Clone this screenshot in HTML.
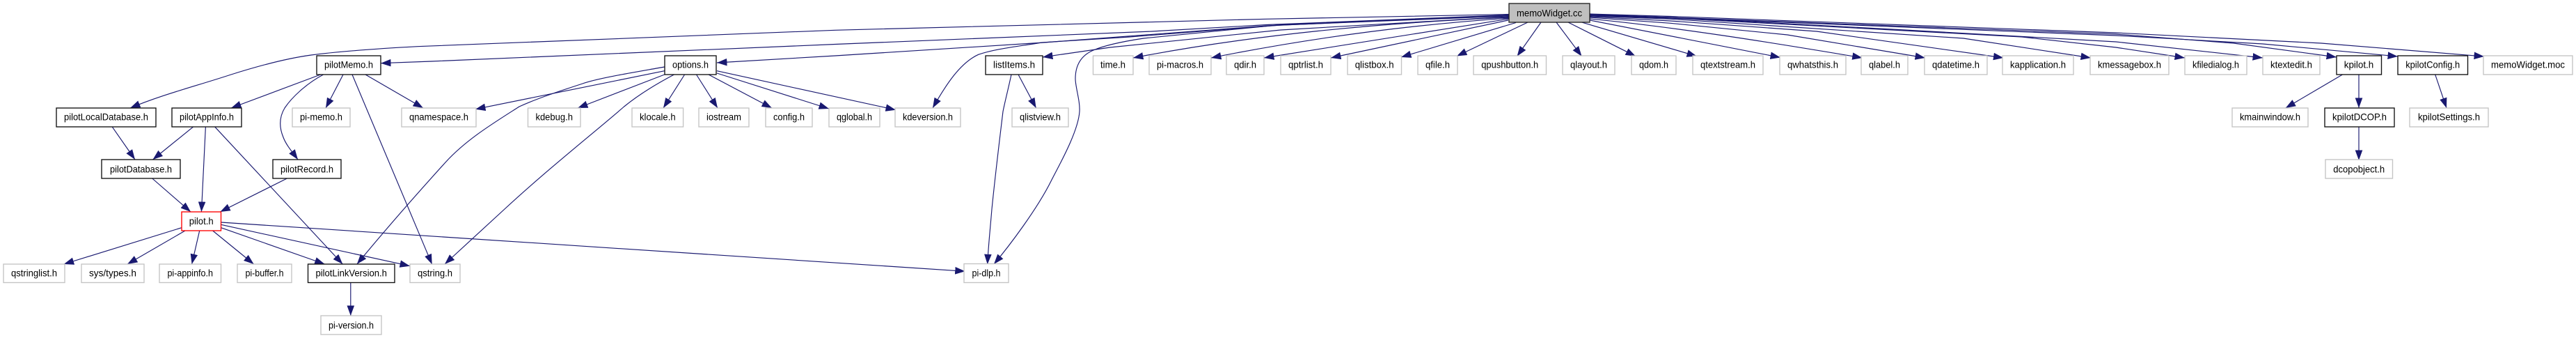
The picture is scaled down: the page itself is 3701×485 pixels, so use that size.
<!DOCTYPE html>
<html><head><meta charset="utf-8"><title>memoWidget.cc include graph</title>
<style>
html,body{margin:0;padding:0;background:#fff;width:3701px;height:485px;overflow:hidden}
svg{display:block}
text{font-family:"Liberation Sans",sans-serif;font-size:13.9px;fill:#000;text-anchor:middle}
.e path{fill:none;stroke:#191970;stroke-width:1.15;stroke-linejoin:round;marker-end:url(#a)}
rect{stroke-width:1.35}
.g{fill:#fff;stroke:#c4c4c4}
.b{fill:#fff;stroke:#111}
.r{fill:#fff;stroke:#f00}
.m{fill:#bfbfbf;stroke:#222}
</style></head><body>
<svg width="3701" height="485" viewBox="0 0 3701 485" xmlns="http://www.w3.org/2000/svg">
<defs><marker id="a" markerUnits="userSpaceOnUse" markerWidth="15" markerHeight="11" viewBox="0 0 15 11" refX="14.5" refY="5.5" orient="auto"><path d="M0 0.2L14.5 5.5L0 10.8z" fill="#191970"/></marker></defs>
<g class="e">
<path d="M2168 20.5L1820 27.3L1200 43.3L600 66.7C520 71 470 76 447 79C410 84 370 95 332 107C280 124 232 136 187 155"/>
<path d="M2168 21.5L1820 35.5L1655 45L1200 63.5L620 88L547 90.7"/>
<path d="M2168 22L1820 37L1500 61L1200 80L1030 90"/>
<path d="M2168 23L1840 36L1623 53L1497 61C1460 67 1430 70 1405.6 78.3C1380 90 1360 120 1340 155"/>
<path d="M2168 22.5L1840 35.5L1643 55C1610 60 1585 66 1571 72C1552 80 1545 95 1545 113C1545 125 1552 145 1551 160C1549 190 1520 240 1510 260C1490 300 1450 353 1428 379"/>
<path d="M2168 24L1840 43L1595 68L1498 82"/>
<path d="M2168 25C1980 33 1800 50 1628 83"/>
<path d="M2168 26C2020 36 1880 55 1740 83"/>
<path d="M2168 27L1816 83"/>
<path d="M2167 29L1912 83"/>
<path d="M2178 32.5L2013 82"/>
<path d="M2195 32L2093 80.5"/>
<path d="M2214 32L2179.6 80.7"/>
<path d="M2236 32L2272.5 80.7"/>
<path d="M2253 32L2350 80.7"/>
<path d="M2272.5 32L2438 80.7"/>
<path d="M2284 29L2558 82.5"/>
<path d="M2284 27C2400 38 2540 60 2675.7 83"/>
<path d="M2284 25L2400 33.3L2568 50L2766 83"/>
<path d="M2284 24L2400 30L2610 45L2878.5 83"/>
<path d="M2284 23L2400 27.3L2821 55L3004 83"/>
<path d="M2284 22.5L2400 26L2905 53L3040 68L3139 83"/>
<path d="M2284 22L2400 25L2737 43L3040 60L3251 83"/>
<path d="M2284 21L2400 25.5L3040 51L3251 63L3445 81"/>
<path d="M2284 20.5L2400 25L3040 49L3209 62L3357 82"/>
<path d="M2284 20L2400 23.5L3040 47L3335 62L3569 81"/>
<path d="M460.6 107L332 155"/>
<path d="M464.6 107C440 120 419 140 409 155C400 170 402 185 407 197C411 208 420 218 428 229"/>
<path d="M493 107L468 155"/>
<path d="M506 107L620.7 379.3"/>
<path d="M525 107L608 155"/>
<path d="M161 181.7L194 229"/>
<path d="M278 181.7L219.5 229"/>
<path d="M295.4 181.7L289.4 304"/>
<path d="M308.4 181.7L492.3 379"/>
<path d="M218.7 256L274 304"/>
<path d="M412.4 256L316.3 304"/>
<path d="M261 326.7L91.7 379"/>
<path d="M266 331L183 379"/>
<path d="M286.7 331L275.6 379"/>
<path d="M305.6 331L364.6 379"/>
<path d="M317.5 326.7L466.6 379"/>
<path d="M317.5 322.3L589 381.7"/>
<path d="M317.5 319L1386.7 389.3"/>
<path d="M503.8 405L503.8 453"/>
<path d="M954.7 96C910 104 860 112 837 120C800 132 770 142 746 153C710 176 670 200 640 233C610 266 560 322 512.9 379"/>
<path d="M954.7 101.7L683 156.7"/>
<path d="M954.7 107L830 155"/>
<path d="M968.5 107C940 122 915 138 896.6 153C860 185 790 240 725 300C700 323 665 355 639 379"/>
<path d="M983.6 107L953 155"/>
<path d="M1000.5 107L1031 155"/>
<path d="M1018 107L1109 155"/>
<path d="M1030 105L1191 156"/>
<path d="M1030 101.7L1287 157.7"/>
<path d="M1453 107C1448 130 1444 145 1441 160C1435 210 1430 250 1425 300C1423 325 1420 352 1418.7 379.3"/>
<path d="M1463 107L1488.6 155"/>
<path d="M3365.5 107L3283.7 155"/>
<path d="M3389 107L3389 155"/>
<path d="M3498.7 107L3515 155"/>
<path d="M3389 181.7L3389 230"/>
</g>
<rect class="m" x="2168" y="5" width="116" height="27"/><text x="2226" y="23.3" textLength="94" lengthAdjust="spacingAndGlyphs">memoWidget.cc</text>

<rect class="b" x="455" y="80" width="92" height="27"/><text x="501" y="97.5" textLength="70" lengthAdjust="spacingAndGlyphs">pilotMemo.h</text>
<rect class="b" x="955" y="80" width="74" height="27"/><text x="992" y="97.5" textLength="52" lengthAdjust="spacingAndGlyphs">options.h</text>
<rect class="b" x="1416" y="80" width="82" height="27"/><text x="1457" y="97.5" textLength="60" lengthAdjust="spacingAndGlyphs">listItems.h</text>
<rect class="g" x="1570.5" y="80" width="57.5" height="27"/><text x="1599" y="97.5" textLength="36" lengthAdjust="spacingAndGlyphs">time.h</text>
<rect class="g" x="1651" y="80" width="89" height="27"/><text x="1695.5" y="97.5" textLength="67" lengthAdjust="spacingAndGlyphs">pi-macros.h</text>
<rect class="g" x="1762" y="80" width="54" height="27"/><text x="1789" y="97.5" textLength="32" lengthAdjust="spacingAndGlyphs">qdir.h</text>
<rect class="g" x="1840" y="80" width="72" height="27"/><text x="1876" y="97.5" textLength="50" lengthAdjust="spacingAndGlyphs">qptrlist.h</text>
<rect class="g" x="1936" y="80" width="77.5" height="27"/><text x="1974.7" y="97.5" textLength="56" lengthAdjust="spacingAndGlyphs">qlistbox.h</text>
<rect class="g" x="2037" y="80" width="57" height="27"/><text x="2065.5" y="97.5" textLength="35" lengthAdjust="spacingAndGlyphs">qfile.h</text>
<rect class="g" x="2117" y="80" width="104.5" height="27"/><text x="2169.2" y="97.5" textLength="82" lengthAdjust="spacingAndGlyphs">qpushbutton.h</text>
<rect class="g" x="2245" y="80" width="75" height="27"/><text x="2282.5" y="97.5" textLength="53" lengthAdjust="spacingAndGlyphs">qlayout.h</text>
<rect class="g" x="2344" y="80" width="64" height="27"/><text x="2376" y="97.5" textLength="42" lengthAdjust="spacingAndGlyphs">qdom.h</text>
<rect class="g" x="2432" y="80" width="101" height="27"/><text x="2482.5" y="97.5" textLength="79" lengthAdjust="spacingAndGlyphs">qtextstream.h</text>
<rect class="g" x="2557" y="80" width="95" height="27"/><text x="2604.5" y="97.5" textLength="73" lengthAdjust="spacingAndGlyphs">qwhatsthis.h</text>
<rect class="g" x="2674" y="80" width="67" height="27"/><text x="2707.5" y="97.5" textLength="45" lengthAdjust="spacingAndGlyphs">qlabel.h</text>
<rect class="g" x="2765" y="80" width="90" height="27"/><text x="2810" y="97.5" textLength="68" lengthAdjust="spacingAndGlyphs">qdatetime.h</text>
<rect class="g" x="2877" y="80" width="102" height="27"/><text x="2928" y="97.5" textLength="80" lengthAdjust="spacingAndGlyphs">kapplication.h</text>
<rect class="g" x="3003" y="80" width="113" height="27"/><text x="3059.5" y="97.5" textLength="91" lengthAdjust="spacingAndGlyphs">kmessagebox.h</text>
<rect class="g" x="3139" y="80" width="89" height="27"/><text x="3183.5" y="97.5" textLength="67" lengthAdjust="spacingAndGlyphs">kfiledialog.h</text>
<rect class="g" x="3251" y="80" width="82" height="27"/><text x="3292" y="97.5" textLength="60" lengthAdjust="spacingAndGlyphs">ktextedit.h</text>
<rect class="b" x="3357" y="80" width="64.5" height="27"/><text x="3389" y="97.5" textLength="42.5" lengthAdjust="spacingAndGlyphs">kpilot.h</text>
<rect class="b" x="3445" y="80" width="100.5" height="27"/><text x="3495.2" y="97.5" textLength="78" lengthAdjust="spacingAndGlyphs">kpilotConfig.h</text>
<rect class="g" x="3568" y="80" width="128" height="27"/><text x="3632" y="97.5" textLength="106" lengthAdjust="spacingAndGlyphs">memoWidget.moc</text>

<rect class="b" x="81" y="155" width="143" height="27"/><text x="152.5" y="172.3" textLength="121" lengthAdjust="spacingAndGlyphs">pilotLocalDatabase.h</text>
<rect class="b" x="247" y="155" width="100" height="27"/><text x="297" y="172.3" textLength="78" lengthAdjust="spacingAndGlyphs">pilotAppInfo.h</text>
<rect class="g" x="420" y="155" width="83" height="27"/><text x="461.5" y="172.3" textLength="61" lengthAdjust="spacingAndGlyphs">pi-memo.h</text>
<rect class="g" x="577" y="155" width="107" height="27"/><text x="630.5" y="172.3" textLength="85" lengthAdjust="spacingAndGlyphs">qnamespace.h</text>
<rect class="g" x="758.5" y="155" width="75.5" height="27"/><text x="796.2" y="172.3" textLength="53.5" lengthAdjust="spacingAndGlyphs">kdebug.h</text>
<rect class="g" x="908" y="155" width="73.6" height="27"/><text x="944.8" y="172.3" textLength="51.6" lengthAdjust="spacingAndGlyphs">klocale.h</text>
<rect class="g" x="1004" y="155" width="72" height="27"/><text x="1040" y="172.3" textLength="50" lengthAdjust="spacingAndGlyphs">iostream</text>
<rect class="g" x="1100" y="155" width="67" height="27"/><text x="1133.5" y="172.3" textLength="45" lengthAdjust="spacingAndGlyphs">config.h</text>
<rect class="g" x="1191" y="155" width="73" height="27"/><text x="1227.5" y="172.3" textLength="51" lengthAdjust="spacingAndGlyphs">qglobal.h</text>
<rect class="g" x="1286" y="155" width="94" height="27"/><text x="1333" y="172.3" textLength="72" lengthAdjust="spacingAndGlyphs">kdeversion.h</text>
<rect class="g" x="1454" y="155" width="81" height="27"/><text x="1494.5" y="172.3" textLength="59" lengthAdjust="spacingAndGlyphs">qlistview.h</text>
<rect class="g" x="3207" y="155" width="109" height="27"/><text x="3261.5" y="172.3" textLength="87" lengthAdjust="spacingAndGlyphs">kmainwindow.h</text>
<rect class="b" x="3340" y="155" width="100" height="27"/><text x="3390" y="172.3" textLength="78" lengthAdjust="spacingAndGlyphs">kpilotDCOP.h</text>
<rect class="g" x="3462" y="155" width="113" height="27"/><text x="3518.5" y="172.3" textLength="89" lengthAdjust="spacingAndGlyphs">kpilotSettings.h</text>

<rect class="b" x="146" y="229" width="113" height="27"/><text x="202.5" y="247.3" textLength="89" lengthAdjust="spacingAndGlyphs">pilotDatabase.h</text>
<rect class="b" x="392" y="229" width="98" height="27"/><text x="441" y="247.3" textLength="76" lengthAdjust="spacingAndGlyphs">pilotRecord.h</text>
<rect class="g" x="3341" y="229" width="96.5" height="27"/><text x="3389.2" y="247.3" textLength="74" lengthAdjust="spacingAndGlyphs">dcopobject.h</text>

<rect class="r" x="261" y="304" width="56.5" height="27"/><text x="289.2" y="322" textLength="35" lengthAdjust="spacingAndGlyphs">pilot.h</text>

<rect class="g" x="5" y="379" width="88" height="26.5"/><text x="49" y="396.7" textLength="66" lengthAdjust="spacingAndGlyphs">qstringlist.h</text>
<rect class="g" x="117" y="379" width="90" height="26.5"/><text x="162" y="396.7" textLength="68" lengthAdjust="spacingAndGlyphs">sys/types.h</text>
<rect class="g" x="229" y="379" width="88.5" height="26.5"/><text x="273.2" y="396.7" textLength="65.5" lengthAdjust="spacingAndGlyphs">pi-appinfo.h</text>
<rect class="g" x="341" y="379" width="78" height="26.5"/><text x="380" y="396.7" textLength="55" lengthAdjust="spacingAndGlyphs">pi-buffer.h</text>
<rect class="b" x="442.5" y="379" width="124.5" height="26.5"/><text x="504.7" y="396.7" textLength="102.5" lengthAdjust="spacingAndGlyphs">pilotLinkVersion.h</text>
<rect class="g" x="589" y="379" width="72" height="26.5"/><text x="625" y="396.7" textLength="50" lengthAdjust="spacingAndGlyphs">qstring.h</text>
<rect class="g" x="1385" y="378.5" width="64" height="27"/><text x="1417" y="396.7" textLength="41" lengthAdjust="spacingAndGlyphs">pi-dlp.h</text>

<rect class="g" x="461" y="453" width="87" height="27"/><text x="504.5" y="471.5" textLength="65" lengthAdjust="spacingAndGlyphs">pi-version.h</text>
</svg>
</body></html>
